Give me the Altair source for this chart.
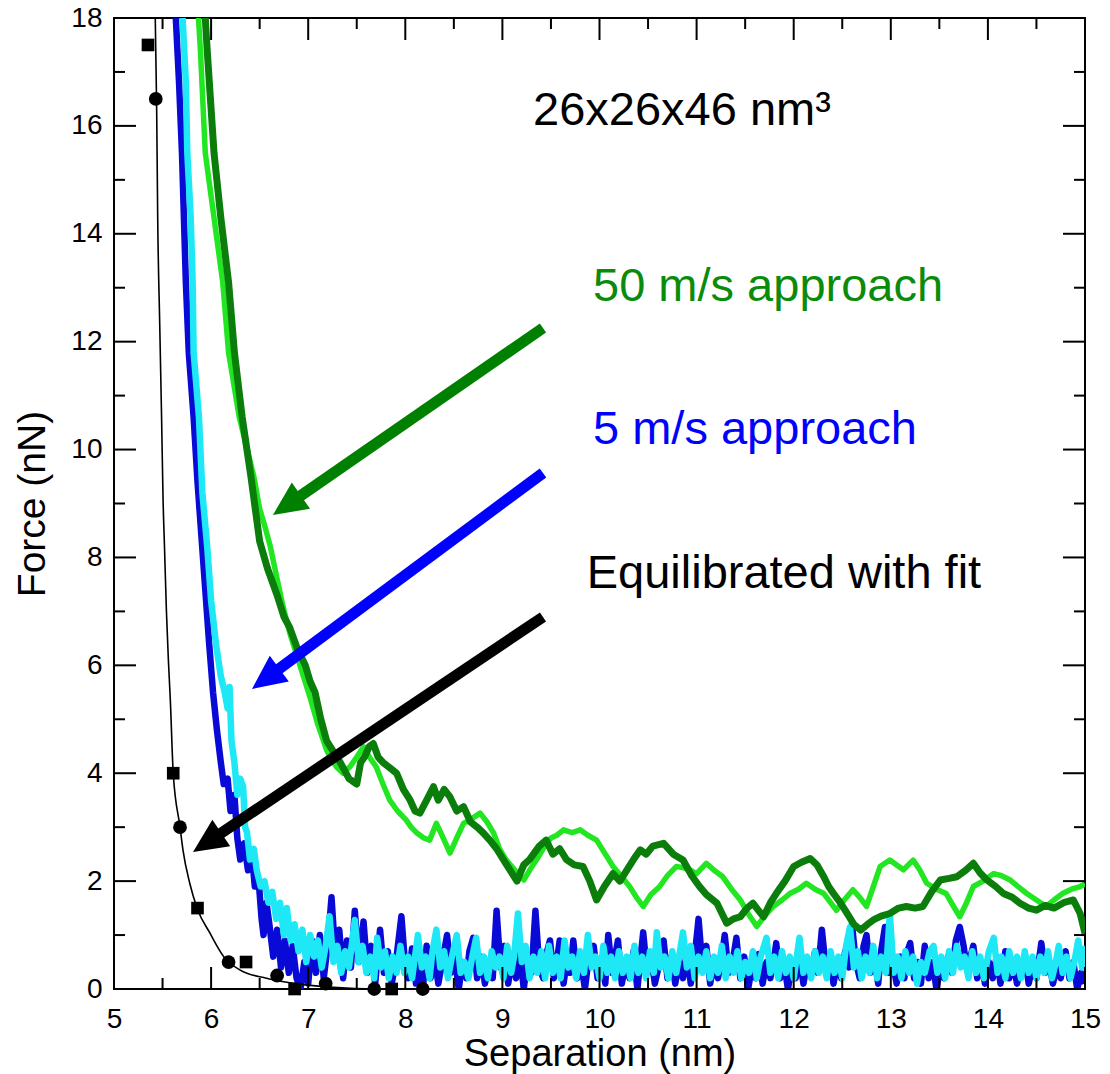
import math
import altair as alt
import pandas as pd

# ---------------- layout constants ----------------
W, H = 971, 971
X_MIN, X_MAX = 5, 15
Y_MIN, Y_MAX = 0, 18
FONT = "Liberation Sans"

# ---------------- axis ticks ----------------
X_MAJOR = [5, 6, 7, 8, 9, 10, 11, 12, 13, 14, 15]
X_MINOR = [5.5, 6.5, 7.5, 8.5, 9.5, 10.5, 11.5, 12.5, 13.5, 14.5]
Y_MAJOR = [0, 2, 4, 6, 8, 10, 12, 14, 16, 18]
Y_MINOR = [1, 3, 5, 7, 9, 11, 13, 15, 17]

# ---------------- equilibrated data + fit ----------------
SQUARES = [(5.35, 17.5), (5.61, 4.0), (5.86, 1.5), (6.36, 0.5), (6.86, 0.0), (7.86, 0.0)]
CIRCLES = [(5.43, 16.5), (5.68, 3.0), (6.18, 0.5), (6.68, 0.25), (7.18, 0.1), (7.68, 0.0), (8.18, 0.0)]
FIT = [(5.42, 18.6), (5.43, 17.4), (5.44, 16.2), (5.45, 14.3), (5.47, 12.4), (5.49, 10.6),
       (5.505, 9.1), (5.52, 8.2), (5.54, 7.0), (5.56, 6.1), (5.58, 5.36), (5.61, 4.0),
       (5.68, 3.0), (5.71, 2.58), (5.78, 1.96), (5.86, 1.48), (5.99, 1.03), (6.13, 0.60),
       (6.30, 0.35), (6.57, 0.20), (6.92, 0.09), (7.26, 0.03), (7.7, 0.0), (15.0, 0.0)]

# ---------------- 5 m/s approach (two runs) ----------------
BLUE = [(5.62, 18.6), (5.67, 16.8), (5.70, 15.5), (5.72, 14.3), (5.74, 13.1), (5.77, 11.8), (5.82, 10.6),
        (5.86, 9.4), (5.90, 8.4), (5.94, 7.4), (5.98, 6.4), (6.02, 5.5), (6.06, 4.8), (6.10, 4.2),
        (6.13, 3.8), (6.17, 3.9), (6.20, 3.3), (6.24, 3.6), (6.27, 2.8), (6.30, 2.4), (6.34, 2.7),
        (6.38, 2.2), (6.42, 2.5), (6.45, 1.9), (6.49, 2.0), (6.52, 1.3), (6.54, 1.0), (6.57, 1.6),
        (6.60, 1.2), (6.64, 0.6), (6.68, 1.1), (6.72, 0.4), (6.76, 0.9), (6.80, 0.3), (6.84, 0.8),
        (6.88, 0.2), (6.92, 0.0), (6.96, 0.5), (7.00, 0.1), (7.04, 0.9), (7.08, 0.3), (7.12, 1.0),
        (7.16, 0.2), (7.20, 0.8), (7.24, 1.7), (7.28, 0.6), (7.32, 1.1), (7.36, 0.2), (7.40, 0.9),
        (7.44, 0.4), (7.48, 1.45), (7.52, 0.5), (7.57, 1.25), (7.61, 0.3), (7.65, 0.8), (7.69, 0.1),
        (7.74, 1.1), (7.78, 0.3), (7.82, 0.7), (7.86, 0.1), (7.91, 0.6), (7.96, 1.35), (8.00, 0.4),
        (8.03, 0.2), (8.07, 0.75), (8.11, 0.1), (8.15, 0.5), (8.18, 0.0), (8.22, 0.8), (8.26, 0.2),
        (8.30, 0.6), (8.34, 0.1), (8.38, 0.5), (8.43, 1.0), (8.47, 0.3), (8.51, 0.6), (8.55, 0.0),
        (8.59, 0.5), (8.63, 0.2), (8.66, 0.7), (8.70, 0.95), (8.74, 0.2), (8.78, 0.6), (8.82, 0.1),
        (8.86, 0.5), (8.90, 0.2), (8.94, 1.45), (8.98, 0.4), (9.02, 0.8), (9.06, 0.1), (9.10, 0.6),
        (9.14, 0.2), (9.18, 0.7), (9.22, 0.0), (9.26, 0.6), (9.30, 0.3), (9.34, 1.45), (9.38, 0.4),
        (9.42, 0.2), (9.46, 0.7), (9.49, 0.9), (9.53, 0.2), (9.56, 0.5), (9.59, 0.9), (9.63, 0.1),
        (9.67, 0.6), (9.70, 0.3), (9.73, 0.9), (9.77, 0.2), (9.81, 0.5), (9.85, 0.0), (9.89, 0.6),
        (9.94, 0.8), (9.98, 0.2), (10.02, 0.5), (10.06, 0.1), (10.09, 1.0), (10.13, 0.3), (10.16, 0.6),
        (10.19, 0.9), (10.23, 0.1), (10.27, 0.5), (10.31, 0.2), (10.35, 0.7), (10.39, 0.0), (10.45, 1.05),
        (10.49, 0.3), (10.53, 0.6), (10.57, 0.1), (10.62, 0.5), (10.66, 0.9), (10.70, 0.2), (10.74, 0.6),
        (10.78, 0.1), (10.82, 0.5), (10.86, 0.2), (10.90, 0.7), (10.94, 0.1), (10.98, 0.6), (11.02, 1.3),
        (11.06, 0.4), (11.10, 0.8), (11.14, 0.1), (11.18, 0.5), (11.22, 0.2), (11.26, 0.6), (11.29, 1.0),
        (11.33, 0.3), (11.37, 0.5), (11.41, 0.95), (11.45, 0.2), (11.49, 0.6), (11.53, 0.0), (11.57, 0.4),
        (11.61, 0.2), (11.64, 0.65), (11.68, 0.1), (11.72, 0.5), (11.76, 0.2), (11.80, 0.6), (11.82, 0.85),
        (11.86, 0.2), (11.90, 0.5), (11.94, 0.0), (11.98, 0.4), (12.02, 0.2), (12.06, 0.6), (12.10, 0.1),
        (12.14, 0.5), (12.18, 0.3), (12.22, 0.7), (12.25, 0.3), (12.29, 1.1), (12.33, 0.4), (12.37, 0.6),
        (12.41, 0.1), (12.45, 0.5), (12.49, 0.2), (12.53, 0.7), (12.57, 0.4), (12.60, 1.2), (12.64, 0.5),
        (12.68, 0.2), (12.72, 0.8), (12.75, 1.0), (12.79, 0.3), (12.83, 0.6), (12.87, 0.1), (12.90, 0.7),
        (12.94, 1.15), (12.98, 0.3), (13.02, 0.5), (13.06, 0.1), (13.10, 0.6), (13.14, 0.2), (13.17, 0.7),
        (13.20, 0.85), (13.24, 0.2), (13.28, 0.5), (13.31, 0.1), (13.35, 0.8), (13.39, 0.2), (13.43, 0.5),
        (13.47, 0.0), (13.51, 0.4), (13.55, 0.2), (13.59, 0.6), (13.63, 0.3), (13.67, 0.9), (13.71, 1.15),
        (13.75, 0.8), (13.78, 0.4), (13.82, 0.6), (13.85, 0.8), (13.89, 0.2), (13.93, 0.5), (13.97, 0.1),
        (14.01, 0.5), (14.05, 0.2), (14.09, 0.6), (14.13, 0.1), (14.18, 0.7), (14.22, 0.2), (14.26, 0.5),
        (14.30, 0.1), (14.34, 0.4), (14.38, 0.6), (14.42, 0.1), (14.46, 0.4), (14.50, 0.2), (14.55, 0.85),
        (14.59, 0.3), (14.63, 0.5), (14.67, 0.1), (14.71, 0.4), (14.75, 0.2), (14.80, 0.7), (14.84, 0.2),
        (14.88, 0.5), (14.92, 0.0), (14.96, 0.3), (15.0, 0.1)]

CYAN = [(5.69, 18.6), (5.74, 16.8), (5.755, 15.5), (5.79, 14.3), (5.81, 13.1), (5.82, 11.8), (5.875, 10.6),
        (5.91, 9.2), (5.96, 8.2), (6.00, 7.2), (6.05, 6.4), (6.10, 5.8), (6.14, 5.5), (6.17, 5.2),
        (6.19, 5.6), (6.21, 4.6), (6.24, 4.2), (6.27, 3.6), (6.30, 3.9), (6.33, 3.75), (6.35, 3.0),
        (6.37, 2.9), (6.40, 2.4), (6.44, 2.6), (6.47, 2.2), (6.51, 1.9), (6.55, 2.0), (6.59, 1.6),
        (6.63, 1.8), (6.67, 1.3), (6.71, 1.6), (6.75, 1.0), (6.78, 1.5), (6.82, 0.9), (6.86, 1.2),
        (6.90, 0.7), (6.94, 1.1), (6.98, 0.5), (7.02, 1.0), (7.06, 0.6), (7.10, 0.9), (7.14, 0.4),
        (7.18, 0.8), (7.22, 1.35), (7.26, 0.5), (7.30, 0.8), (7.34, 0.3), (7.38, 0.7), (7.42, 0.4),
        (7.48, 1.28), (7.52, 0.5), (7.56, 0.8), (7.60, 0.3), (7.64, 0.6), (7.68, 0.2), (7.71, 0.95),
        (7.75, 0.4), (7.79, 0.7), (7.83, 0.2), (7.87, 0.6), (7.91, 0.3), (7.95, 0.8), (7.99, 0.3),
        (8.03, 0.6), (8.07, 0.2), (8.13, 1.0), (8.17, 0.4), (8.21, 0.6), (8.25, 0.2), (8.28, 0.7),
        (8.32, 1.1), (8.36, 0.4), (8.40, 0.7), (8.44, 0.2), (8.48, 0.6), (8.53, 1.0), (8.57, 0.3),
        (8.61, 0.5), (8.65, 0.2), (8.69, 0.6), (8.73, 0.95), (8.77, 0.3), (8.81, 0.6), (8.85, 0.2),
        (8.89, 0.7), (8.93, 0.4), (8.97, 0.6), (9.01, 0.2), (9.05, 0.8), (9.09, 0.3), (9.12, 0.6),
        (9.16, 1.4), (9.20, 0.5), (9.24, 0.8), (9.28, 0.2), (9.32, 0.6), (9.36, 0.3), (9.40, 0.7),
        (9.44, 0.2), (9.48, 0.8), (9.52, 0.3), (9.56, 0.6), (9.60, 0.2), (9.64, 0.9), (9.68, 0.4),
        (9.72, 0.6), (9.76, 0.2), (9.80, 0.7), (9.84, 0.3), (9.88, 1.0), (9.92, 0.4), (9.96, 0.6),
        (10.00, 0.2), (10.04, 0.8), (10.08, 0.3), (10.12, 0.6), (10.16, 0.2), (10.20, 0.7), (10.24, 0.3),
        (10.28, 0.6), (10.32, 0.2), (10.36, 0.8), (10.40, 0.3), (10.44, 0.6), (10.48, 0.2), (10.52, 0.7),
        (10.56, 0.3), (10.59, 1.05), (10.63, 0.4), (10.67, 0.6), (10.71, 0.2), (10.75, 0.7), (10.79, 0.3),
        (10.82, 0.6), (10.86, 1.05), (10.90, 0.4), (10.94, 0.8), (10.98, 0.2), (11.02, 0.6), (11.06, 0.3),
        (11.10, 0.7), (11.14, 0.2), (11.18, 0.6), (11.22, 0.3), (11.26, 0.8), (11.30, 0.2), (11.34, 0.6),
        (11.38, 0.3), (11.42, 0.7), (11.46, 0.2), (11.50, 0.5), (11.54, 0.3), (11.58, 0.7), (11.62, 0.2),
        (11.66, 0.6), (11.72, 0.95), (11.76, 0.3), (11.80, 0.6), (11.84, 0.2), (11.88, 0.7), (11.92, 0.3),
        (11.96, 0.6), (12.00, 0.2), (12.06, 0.95), (12.10, 0.3), (12.14, 0.6), (12.18, 0.2), (12.22, 0.7),
        (12.26, 0.3), (12.30, 0.6), (12.34, 0.2), (12.38, 0.7), (12.42, 0.3), (12.46, 0.6), (12.50, 0.2),
        (12.54, 0.8), (12.58, 1.15), (12.62, 0.4), (12.66, 0.7), (12.70, 0.2), (12.74, 0.6), (12.78, 0.3),
        (12.82, 0.8), (12.86, 0.2), (12.90, 0.6), (12.95, 0.3), (12.99, 1.4), (13.03, 0.3), (13.07, 0.6),
        (13.11, 0.2), (13.15, 0.7), (13.19, 0.3), (13.23, 0.6), (13.27, 0.1), (13.31, 0.5), (13.35, 0.3),
        (13.40, 0.7), (13.44, 0.8), (13.48, 0.3), (13.52, 0.6), (13.56, 0.2), (13.60, 0.7), (13.64, 0.3),
        (13.68, 0.8), (13.72, 0.4), (13.76, 0.6), (13.80, 0.2), (13.84, 0.7), (13.88, 0.3), (13.92, 0.6),
        (13.96, 0.2), (14.01, 0.7), (14.06, 0.95), (14.10, 0.3), (14.14, 0.6), (14.18, 0.2), (14.22, 0.7),
        (14.26, 0.3), (14.30, 0.6), (14.34, 0.2), (14.38, 0.7), (14.42, 0.3), (14.46, 0.6), (14.50, 0.2),
        (14.54, 0.6), (14.58, 0.3), (14.62, 0.7), (14.66, 0.2), (14.70, 0.5), (14.73, 0.8), (14.77, 0.3),
        (14.81, 0.6), (14.85, 0.2), (14.89, 0.5), (14.93, 0.9), (14.97, 0.4), (15.0, 0.8)]

# ---------------- 50 m/s approach (two runs) ----------------
DARK_GREEN = [(5.92, 18.6), (5.96, 17.4), (6.03, 15.5), (6.10, 14.3), (6.18, 13.1), (6.24, 11.8), (6.32, 10.6),
              (6.41, 9.5), (6.50, 8.3), (6.58, 7.8), (6.68, 7.3), (6.75, 6.9), (6.81, 6.7), (6.89, 6.3),
              (6.97, 6.0), (7.02, 5.7), (7.07, 5.5), (7.13, 5.0), (7.19, 4.6), (7.26, 4.4), (7.33, 4.2),
              (7.42, 3.9), (7.50, 3.8), (7.54, 4.2), (7.58, 4.3), (7.63, 4.5), (7.67, 4.55), (7.72, 4.3),
              (7.77, 4.2), (7.84, 4.1), (7.91, 4.0), (7.98, 3.7), (8.05, 3.5), (8.10, 3.3), (8.15, 3.26),
              (8.22, 3.5), (8.29, 3.75), (8.34, 3.5), (8.40, 3.7), (8.46, 3.56), (8.53, 3.3), (8.60, 3.38),
              (8.67, 3.1), (8.74, 3.0), (8.80, 2.9), (8.87, 2.76), (8.94, 2.6), (9.01, 2.4), (9.08, 2.2),
              (9.15, 2.0), (9.22, 2.3), (9.28, 2.4), (9.32, 2.5), (9.38, 2.65), (9.45, 2.76), (9.52, 2.5),
              (9.59, 2.6), (9.66, 2.4), (9.74, 2.3), (9.83, 2.27), (9.90, 2.0), (9.97, 1.65), (10.05, 1.9),
              (10.14, 2.14), (10.21, 2.0), (10.28, 2.2), (10.35, 2.4), (10.42, 2.58), (10.48, 2.5),
              (10.55, 2.65), (10.66, 2.70), (10.76, 2.5), (10.86, 2.39), (10.95, 2.1), (11.03, 1.90),
              (11.10, 1.75), (11.21, 1.59), (11.31, 1.22), (11.38, 1.3), (11.45, 1.34), (11.52, 1.5),
              (11.58, 1.59), (11.64, 1.45), (11.69, 1.34), (11.76, 1.6), (11.82, 1.77), (11.91, 2.0),
              (12.0, 2.27), (12.08, 2.35), (12.17, 2.42), (12.24, 2.3), (12.31, 2.08), (12.36, 1.9),
              (12.41, 1.77), (12.48, 1.6), (12.55, 1.40), (12.62, 1.2), (12.69, 1.09), (12.76, 1.2),
              (12.82, 1.28), (12.90, 1.35), (12.99, 1.40), (13.08, 1.5), (13.16, 1.53), (13.25, 1.5),
              (13.33, 1.53), (13.42, 1.8), (13.51, 2.02), (13.60, 2.05), (13.68, 2.08), (13.77, 2.2),
              (13.85, 2.33), (13.92, 2.15), (13.99, 2.02), (14.08, 1.9), (14.16, 1.77), (14.25, 1.7),
              (14.33, 1.59), (14.42, 1.5), (14.50, 1.46), (14.59, 1.55), (14.68, 1.5), (14.78, 1.6),
              (14.88, 1.65), (14.95, 1.40), (15.0, 1.03)]

LIGHT_GREEN = [(5.85, 18.6), (5.89, 17.4), (5.94, 15.5), (6.03, 14.3), (6.12, 13.1), (6.18, 11.8), (6.29, 10.6),
               (6.44, 9.5), (6.50, 8.9), (6.55, 8.6), (6.61, 8.2), (6.68, 7.6), (6.74, 7.1), (6.81, 6.6),
               (6.88, 6.2), (6.95, 5.8), (7.02, 5.4), (7.10, 4.9), (7.19, 4.43), (7.24, 4.25), (7.29, 4.12),
               (7.36, 4.0), (7.43, 4.12), (7.50, 4.3), (7.57, 4.49), (7.63, 4.3), (7.70, 4.12), (7.77, 3.8),
               (7.84, 3.5), (7.92, 3.3), (8.01, 3.13), (8.06, 3.0), (8.12, 2.89), (8.19, 2.8), (8.25, 2.76),
               (8.32, 3.07), (8.39, 2.8), (8.46, 2.52), (8.53, 2.8), (8.60, 3.07), (8.68, 3.15), (8.77, 3.26),
               (8.84, 3.1), (8.91, 2.89), (8.97, 2.6), (9.04, 2.39), (9.13, 2.2), (9.22, 2.02), (9.28, 2.2),
               (9.35, 2.39), (9.42, 2.6), (9.50, 2.8), (9.56, 2.85), (9.63, 2.95), (9.72, 2.9), (9.80, 2.95),
               (9.88, 2.85), (9.97, 2.76), (10.06, 2.5), (10.14, 2.27), (10.22, 2.1), (10.31, 1.90),
               (10.38, 1.7), (10.45, 1.53), (10.53, 1.75), (10.62, 1.90), (10.70, 2.1), (10.79, 2.27),
               (10.86, 2.25), (10.93, 2.21), (11.0, 2.14), (11.10, 2.33), (11.18, 2.2), (11.27, 2.08),
               (11.36, 1.85), (11.45, 1.65), (11.53, 1.4), (11.62, 1.16), (11.70, 1.35), (11.79, 1.53),
               (11.88, 1.65), (11.96, 1.77), (12.05, 1.85), (12.13, 1.96), (12.22, 1.85), (12.31, 1.77),
               (12.38, 1.6), (12.44, 1.46), (12.52, 1.65), (12.61, 1.84), (12.68, 1.7), (12.75, 1.53),
               (12.82, 1.9), (12.89, 2.27), (12.99, 2.39), (13.06, 2.3), (13.13, 2.21), (13.18, 2.3),
               (13.23, 2.39), (13.30, 2.2), (13.37, 1.96), (13.47, 1.85), (13.57, 1.77), (13.64, 1.55),
               (13.71, 1.34), (13.78, 1.6), (13.85, 1.90), (13.95, 2.0), (14.06, 2.14), (14.14, 2.1),
               (14.23, 2.02), (14.31, 1.9), (14.40, 1.77), (14.50, 1.65), (14.60, 1.53), (14.68, 1.65),
               (14.77, 1.77), (14.86, 1.85), (14.95, 1.90), (15.0, 1.95)]

# ---------------- annotations ----------------
ARROW_COLORS = ["#008000", "#0000ff", "#000000"]
ARROW_START = [(9.418, 12.254), (9.418, 9.566), (9.418, 6.897)]
ARROW_TIP = [(6.637, 8.788), (6.421, 5.562), (5.814, 2.540)]

LABELS = ["26x26x46 nm\u00b3", "50 m/s approach", "5 m/s approach", "Equilibrated with fit"]
LABEL_POS = [(9.315, 16.02), (9.933, 12.755), (9.933, 10.10), (9.868, 7.43)]
LABEL_COLORS = ["#000000", "#0a8c0a", "#0000ff", "#000000"]

# ---------------- helpers ----------------
PX_X = W / (X_MAX - X_MIN)
PX_Y = H / (Y_MAX - Y_MIN)

xs = alt.Scale(domain=[X_MIN, X_MAX], nice=False, zero=False)
ys = alt.Scale(domain=[Y_MIN, Y_MAX], nice=False, zero=False)

x_axis = alt.Axis(values=X_MAJOR, format="d", ticks=False, domain=False, grid=False,
                  labelFont=FONT, labelFontSize=28, labelColor="black", labelPadding=16,
                  labelFlush=False, labelOverlap=False,
                  title="Separation (nm)", titleFont=FONT, titleFontSize=38,
                  titleFontWeight="normal", titleColor="black", titlePadding=2)
y_axis = alt.Axis(values=Y_MAJOR, format="d", ticks=False, domain=False, grid=False,
                  labelFont=FONT, labelFontSize=28, labelColor="black", labelPadding=12,
                  labelFlush=False, labelOverlap=False,
                  title="Force (nN)", titleFont=FONT, titleFontSize=39,
                  titleFontWeight="normal", titleColor="black", titlePadding=18)

X = lambda f="x": alt.X(f"{f}:Q", scale=xs, axis=x_axis)
Y = lambda f="y": alt.Y(f"{f}:Q", scale=ys, axis=y_axis)


def pts(pairs):
    return pd.DataFrame({"x": [p[0] for p in pairs], "y": [p[1] for p in pairs],
                         "i": list(range(len(pairs)))})


def trace(pairs, color, width):
    return alt.Chart(pts(pairs)).mark_line(color=color, strokeWidth=width, clip=True,
                                           strokeJoin="round").encode(
        x=X(), y=Y(), order="i:Q")


layers = []
layers.append(trace(BLUE, "#0a0ad6", 6.5))
layers.append(trace(CYAN, "#1ee8f5", 6.5))
layers.append(trace(LIGHT_GREEN, "#22e622", 5.5))
layers.append(trace(DARK_GREEN, "#0b7d0b", 7))

layers.append(alt.Chart(pts(FIT)).mark_line(color="black", strokeWidth=1.6, clip=True,
                                            interpolate="monotone").encode(x=X(), y=Y(), order="i:Q"))
layers.append(alt.Chart(pts(SQUARES)).mark_point(shape="square", filled=True, size=160,
                                                 color="black", opacity=1).encode(x=X(), y=Y()))
layers.append(alt.Chart(pts(CIRCLES)).mark_point(shape="circle", filled=True, size=190,
                                                 color="black", opacity=1).encode(x=X(), y=Y()))

# arrows
HEAD_LEN = 34
shaft_rows, head_rows = [], []
for c, (sx, sy), (tx, ty) in zip(ARROW_COLORS, ARROW_START, ARROW_TIP):
    dxp = (tx - sx) * PX_X
    dyp = -(ty - sy) * PX_Y
    L = math.hypot(dxp, dyp)
    ux, uy = dxp / L, dyp / L
    back = HEAD_LEN - 8
    ex = tx - ux * back / PX_X
    ey = ty + uy * back / PX_Y
    shaft_rows.append({"x": sx, "y": sy, "x2": ex, "y2": ey, "c": c})
    ang = math.degrees(math.atan2(dxp, -dyp)) % 360
    head_rows.append({"x": tx, "y": ty, "a": ang, "c": c})

layers.append(alt.Chart(pd.DataFrame(shaft_rows)).mark_rule(strokeWidth=11, strokeCap="butt").encode(
    x=X(), y=Y(), x2="x2:Q", y2="y2:Q", color=alt.Color("c:N", scale=None)))
layers.append(alt.Chart(pd.DataFrame(head_rows)).mark_point(
    shape="M0,0L0.94,2L-0.94,2Z", filled=True, size=HEAD_LEN * HEAD_LEN, opacity=1, strokeWidth=0).encode(
    x=X(), y=Y(), angle=alt.Angle("a:Q", scale=None), color=alt.Color("c:N", scale=None)))

# texts
text_df = pd.DataFrame({"x": [p[0] for p in LABEL_POS], "y": [p[1] for p in LABEL_POS],
                        "t": LABELS, "c": LABEL_COLORS})
layers.append(alt.Chart(text_df).mark_text(align="left", baseline="alphabetic", font=FONT,
                                           fontSize=47).encode(
    x=X(), y=Y(), text="t:N", color=alt.Color("c:N", scale=None)))

# inward ticks on all four sides
MAJ, MIN = 22, 11
for vals, ln in ((X_MAJOR, MAJ), (X_MINOR, MIN)):
    d = pd.DataFrame({"x": vals})
    layers.append(alt.Chart(d).mark_rule(color="black", strokeWidth=2).encode(
        x=X(), y=alt.value(H), y2=alt.value(H - ln)))
    layers.append(alt.Chart(d).mark_rule(color="black", strokeWidth=2).encode(
        x=X(), y=alt.value(0), y2=alt.value(ln)))
for vals, ln in ((Y_MAJOR, MAJ), (Y_MINOR, MIN)):
    d = pd.DataFrame({"y": vals})
    layers.append(alt.Chart(d).mark_rule(color="black", strokeWidth=2).encode(
        y=Y(), x=alt.value(0), x2=alt.value(ln)))
    layers.append(alt.Chart(d).mark_rule(color="black", strokeWidth=2).encode(
        y=Y(), x=alt.value(W), x2=alt.value(W - ln)))

chart = alt.layer(*layers).properties(
    width=W, height=H,
    autosize=alt.AutoSizeParams(type="none"),
    padding={"left": 106, "top": 10, "right": 17, "bottom": 85},
    background="white",
).configure_view(stroke="black", strokeWidth=2)

chart.save("out.html", embed_options={"renderer": "svg", "actions": False})
